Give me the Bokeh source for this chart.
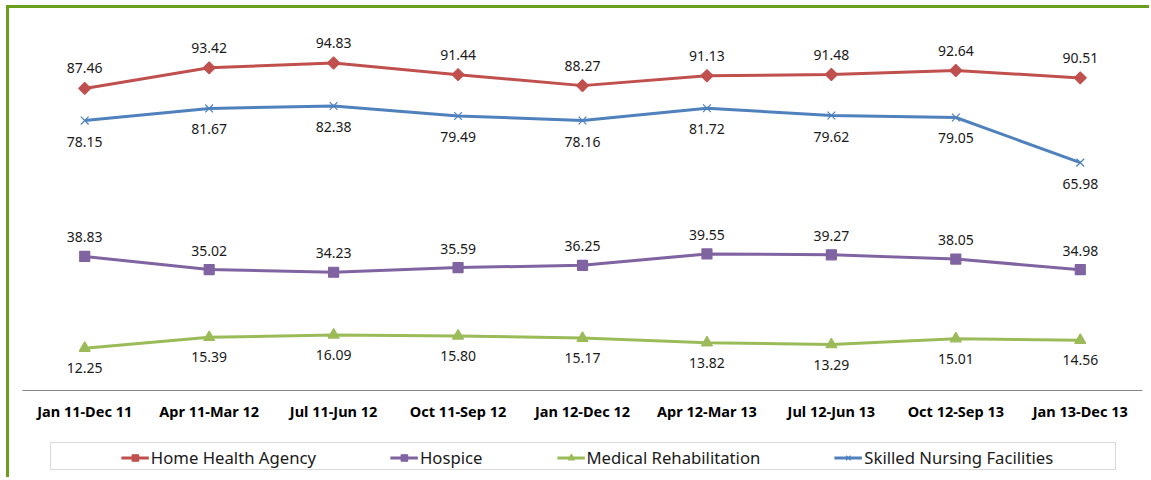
import math
from bokeh.plotting import figure
from bokeh.models import FactorRange, Range1d, Legend, LegendItem
from bokeh.layouts import column
from bokeh.embed import file_html
from bokeh.resources import INLINE
from bokeh.core.properties import value

periods = ["Jan 11-Dec 11", "Apr 11-Mar 12", "Jul 11-Jun 12", "Oct 11-Sep 12",
           "Jan 12-Dec 12", "Apr 12-Mar 13", "Jul 12-Jun 13", "Oct 12-Sep 13",
           "Jan 13-Dec 13"]
home_health = [87.46, 93.42, 94.83, 91.44, 88.27, 91.13, 91.48, 92.64, 90.51]
hospice = [38.83, 35.02, 34.23, 35.59, 36.25, 39.55, 39.27, 38.05, 34.98]
medical_rehab = [12.25, 15.39, 16.09, 15.80, 15.17, 13.82, 13.29, 15.01, 14.56]
skilled_nursing = [78.15, 81.67, 82.38, 79.49, 78.16, 81.72, 79.62, 79.05, 65.98]
series_names = ["Home Health Agency", "Hospice", "Medical Rehabilitation",
                "Skilled Nursing Facilities"]

FONT = "Noto Sans"
GREEN_BORDER = "#6A9F1E"

styles_cfg = [
    # values, color, marker, size, angle, label offset
    (home_health, "#C0504D", "square", 8.5, math.pi / 4, -20),
    (hospice, "#8064A2", "square", 10, 0, -19),
    (medical_rehab, "#9BBB59", "triangle", 11, 0, 20),
    (skilled_nursing, "#4F81BD", "x", 11, 0, 21),
]

p = figure(x_range=FactorRange(*periods, range_padding=0),
           y_range=Range1d(0, 110.6),
           width=1140, height=434,
           min_border_left=13, min_border_right=7, min_border_top=0,
           min_border_bottom=52,
           y_axis_location=None,
           toolbar_location=None, output_backend="svg")
p.outline_line_color = None
p.xgrid.grid_line_color = None
p.ygrid.grid_line_color = None

xa = p.xaxis[0]
xa.axis_line_color = "#868686"
xa.axis_line_width = 1
xa.major_tick_line_color = None
xa.minor_tick_line_color = None
xa.major_label_text_font = FONT
xa.major_label_text_font_style = "bold"
xa.major_label_text_font_size = "14.5px"
xa.major_label_text_color = "#000000"
xa.major_label_standoff = 4

for vals, color, marker, size, angle, off in styles_cfg:
    p.line(periods, vals, line_color=color, line_width=3)
    p.scatter(periods, vals, marker=marker, size=size, angle=angle,
              fill_color=color, line_color=color, line_width=1.2)
    p.text(x=periods, y=vals, text=[f"{v:.2f}" for v in vals],
           y_offset=off, text_align="center", text_baseline="middle",
           text_font=value(FONT), text_font_size="14px",
           text_color="#1A1A1A")

# Legend box as a separate small figure; its sample renderers sit off-range
lg = figure(width=1066, height=28, x_range=Range1d(0, 1), y_range=Range1d(0, 1),
            min_border=0, x_axis_location=None, y_axis_location=None,
            toolbar_location=None, output_backend="svg")
lg.outline_line_color = None
lg.xgrid.grid_line_color = None
lg.ygrid.grid_line_color = None
lg.styles = {"border": "1px solid #D9D9D9"}
lg.margin = (0, 0, 7, 41)

items = []
for name, (vals, color, marker, size, angle, off) in zip(series_names, styles_cfg):
    r1 = lg.line(x=[-10, -9], y=[-10, -9], line_color=color, line_width=3)
    r2 = lg.scatter(x=[-10], y=[-10], marker=marker, size=size, angle=angle,
                    fill_color=color, line_color=color, line_width=1.2)
    items.append(LegendItem(label=name, renderers=[r1, r2]))

legend = Legend(items=items, orientation="horizontal", location="center",
                border_line_color=None, background_fill_alpha=0,
                spacing=74, glyph_width=28, glyph_height=16, label_standoff=2,
                label_text_font=FONT, label_text_font_size="16.7px",
                label_text_color="#1A1A1A", padding=0, margin=0)
lg.add_layout(legend, "center")

layout = column(p, lg, spacing=0)
layout.styles = {"border-left": f"3px solid {GREEN_BORDER}",
                 "border-top": f"3px solid {GREEN_BORDER}"}
layout.margin = (5, 0, 0, 6)
open("out.html", "w").write(file_html(layout, INLINE))
